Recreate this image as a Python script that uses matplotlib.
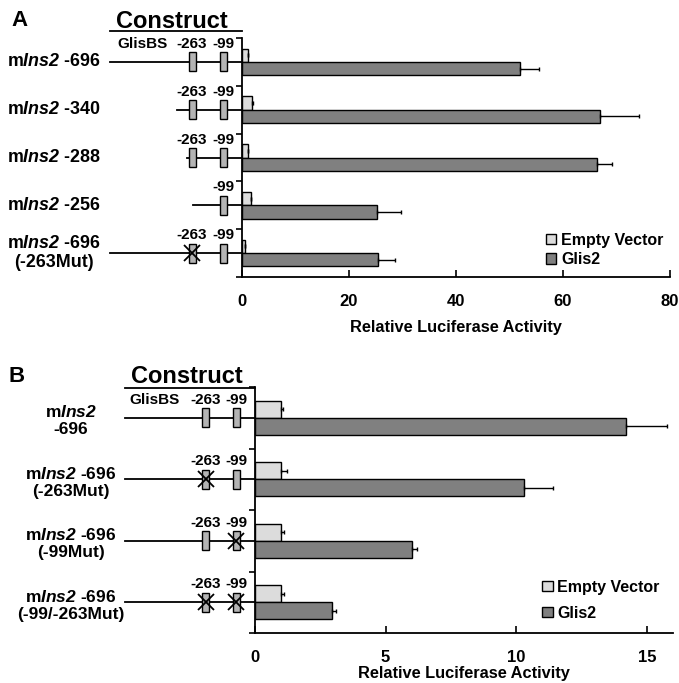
import numpy as np
import matplotlib
matplotlib.use("Agg")
import matplotlib.pyplot as plt
from matplotlib.patches import Rectangle

plt.rcParams['font.family'] = 'Liberation Sans'
plt.rcParams['font.weight'] = 'bold'
plt.rcParams['mathtext.fontset'] = 'custom'
# digits go through the rm font in mathtext, so make rm the bold italic face
plt.rcParams['mathtext.rm'] = 'Liberation Sans:italic:bold'
plt.rcParams['mathtext.it'] = 'Liberation Sans:italic:bold'

# ---- panel A data ----
a_labels = ["m$\\mathrm{Ins2}$ -696", "m$\\mathrm{Ins2}$ -340", "m$\\mathrm{Ins2}$ -288",
            "m$\\mathrm{Ins2}$ -256", "m$\\mathrm{Ins2}$ -696\n(-263Mut)"]
a_start = [-696, -340, -288, -256, -696]
a_sites = [[-263, -99], [-263, -99], [-263, -99], [-99], [-263, -99]]
a_mut = [[], [], [], [], [-263]]
a_empty = [1.1, 1.9, 1.1, 1.6, 0.5]
a_empty_err = [0.1, 0.2, 0.1, 0.1, 0.1]
a_glis2 = [51.9, 66.9, 66.4, 25.3, 25.5]
a_glis2_err = [3.7, 7.3, 2.7, 4.4, 3.1]
a_xticks = [0, 20, 40, 60, 80]

# ---- panel B data ----
b_labels = ["m$\\mathrm{Ins2}$\n-696", "m$\\mathrm{Ins2}$ -696\n(-263Mut)",
            "m$\\mathrm{Ins2}$ -696\n(-99Mut)", "m$\\mathrm{Ins2}$ -696\n(-99/-263Mut)"]
b_start = [-696, -696, -696, -696]
b_sites = [[-263, -99]] * 4
b_mut = [[], [-263], [-99], [-263, -99]]
b_empty = [1.0, 1.0, 1.0, 1.0]
b_empty_err = [0.08, 0.21, 0.12, 0.1]
b_glis2 = [14.2, 10.3, 6.0, 2.95]
b_glis2_err = [1.56, 1.1, 0.2, 0.14]
b_xticks = [0, 5, 10, 15]

series = ["Empty Vector", "Glis2"]
c_empty = '#dcdcdc'
c_glis2 = '#808080'
c_box = '#b4b4b4'

W, H = 679, 683


def rect(l, t, r, b):
    return [l / W, 1 - b / H, (r - l) / W, (b - t) / H]


def draw_panel(fig, letter, box, xmax, xticks, labels, starts, sites, muts,
               empty, empty_err, glis2, glis2_err, scale, label_x, label_ha,
               label_dy, label_fs, glisbs_x, head, ul_y, ul_x0, leg_anchor, leg_sp, xlpad):
    l, t, r, b = box
    n = len(labels)
    unit = (b - t) / n
    y = np.arange(n)
    h = 0.28

    ax = fig.add_axes(rect(l, t, r, b))
    ekw = dict(ecolor='black', elinewidth=1, capsize=1.5, capthick=1)
    b1 = ax.barh(y - h / 2, empty, height=h, color=c_empty, edgecolor='black', linewidth=1,
                 xerr=[np.zeros(n), empty_err], error_kw=ekw)
    b2 = ax.barh(y + h / 2, glis2, height=h, color=c_glis2, edgecolor='black', linewidth=1,
                 xerr=[np.zeros(n), glis2_err], error_kw=ekw)
    ax.set_xlim(0, xmax)
    ax.set_ylim(n - 0.5, -0.5)
    ax.set_yticks(np.arange(n + 1) - 0.5)
    ax.set_yticklabels([])
    ax.set_xticks(xticks)
    ax.set_xticklabels([str(v) for v in xticks], fontsize=12, fontweight='bold')
    ax.tick_params(axis='x', direction='in', length=5, width=1.2, pad=12)
    ax.tick_params(axis='y', direction='out', length=4, width=1.2)
    for s in ['top', 'right']:
        ax.spines[s].set_visible(False)
    for s in ['left', 'bottom']:
        ax.spines[s].set_linewidth(1.3)
    ax.set_xlabel("Relative Luciferase Activity", fontsize=11.8, fontweight='bold', labelpad=xlpad)
    ax.legend([b1, b2], series, loc='lower left', bbox_to_anchor=leg_anchor, frameon=False,
              handlelength=0.65, handleheight=0.65, handletextpad=0.3, labelspacing=leg_sp,
              fontsize=11.5, borderpad=0, borderaxespad=0)

    # construct drawing in bp coordinates
    cx = fig.add_axes(rect(0, t, l, b))
    cx.set_xlim(-l / scale, 0)
    cx.set_ylim(n - 0.5, -0.5)
    cx.axis('off')

    def px(p):
        return -(l - p) / scale

    def py(p):
        return (p - t) / unit - 0.5

    bw = 7 / scale
    bh = 19 / unit
    for i in range(n):
        cx.plot([starts[i], 0], [i, i], color='black', lw=1.3, clip_on=False, zorder=1)
        for s in sites[i]:
            cx.add_patch(Rectangle((s - bw / 2, i - bh / 2), bw, bh, facecolor=c_box,
                                   edgecolor='black', lw=1, zorder=2, clip_on=False))
            cx.text(s, i - 18 / unit, str(s), ha='center', va='center', fontsize=11,
                    fontweight='bold', clip_on=False)
            if s in muts[i]:
                cx.plot([s], [i], marker='x', ms=12, mew=1.3, color='black', zorder=3, clip_on=False)
        cx.text(px(label_x), i + label_dy / unit, labels[i], ha=label_ha, va='center',
                multialignment='center', fontsize=label_fs, fontweight='bold', linespacing=1.2)
    cx.text(px(glisbs_x), -18 / unit, "GlisBS", ha='center', va='center', fontsize=11, fontweight='bold')

    # header
    cx.text(px(head[0]), py(head[1]), letter, ha='center', va='center', fontsize=16, fontweight='bold')
    cx.text(px(head[2]), py(head[1]), "Construct", ha='center', va='center', fontsize=17, fontweight='bold')
    cx.plot([px(ul_x0), 0], [py(ul_y), py(ul_y)], color='black', lw=1.3, clip_on=False)
    return ax, cx


fig = plt.figure(figsize=(W / 100, H / 100), dpi=100)

draw_panel(fig, "A", (242, 38, 670, 277), 80, a_xticks, a_labels, a_start, a_sites, a_mut,
           a_empty, a_empty_err, a_glis2, a_glis2_err, scale=0.19,
           label_x=101, label_ha='right', label_dy=0, label_fs=12.9, glisbs_x=142,
           head=(19, 21, 172), ul_y=31, ul_x0=110, leg_anchor=(0.71, 0.04), leg_sp=0.3, xlpad=8)

draw_panel(fig, "B", (255, 387, 673, 633), 16, b_xticks, b_labels, b_start, b_sites, b_mut,
           b_empty, b_empty_err, b_glis2, b_glis2_err, scale=0.187,
           label_x=71, label_ha='center', label_dy=3, label_fs=12.5, glisbs_x=155,
           head=(17, 376, 187), ul_y=388, ul_x0=125, leg_anchor=(0.687, 0.05), leg_sp=0.7, xlpad=1)

fig.savefig("out.png", dpi=100)
